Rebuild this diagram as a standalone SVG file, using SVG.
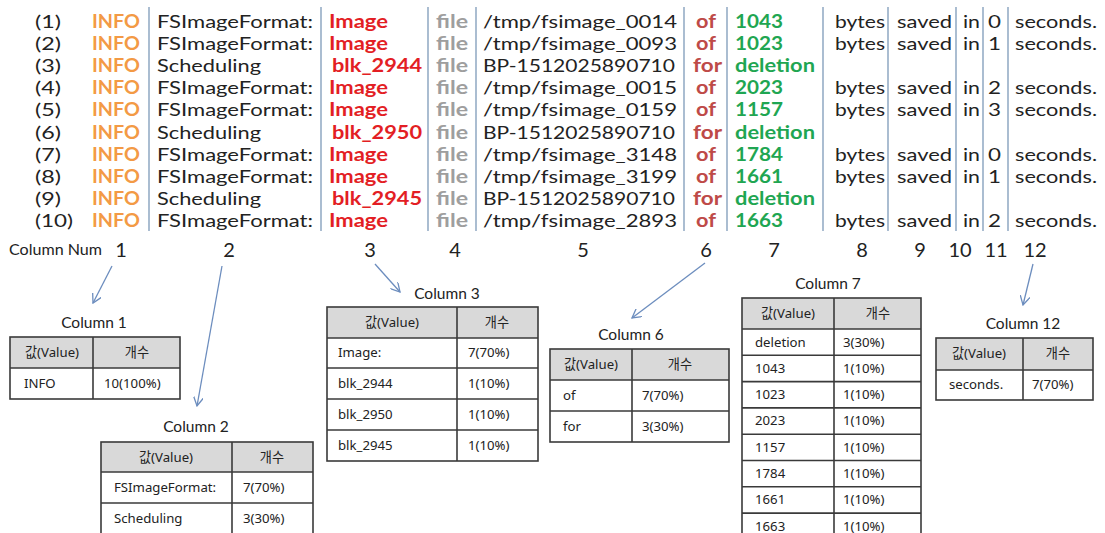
<svg xmlns="http://www.w3.org/2000/svg" width="1105" height="533" viewBox="0 0 1105 533">
<style>
text{font-family:Lato,"Liberation Sans",sans-serif}
.lg{font-size:18px}
.k{fill:#222}
.o{fill:#F39A45;font-weight:700}
.r{fill:#E31E24;font-weight:700}
.g{fill:#9E9E9E;font-weight:700}
.d{fill:#BE4A48;font-weight:700}
.v{fill:#1FA652;font-weight:700}
.sep{stroke:#7D9AB9;stroke-width:1.3}
.cn{font-size:20px;fill:#222;text-anchor:middle}
.ttl{font-size:15.5px;fill:#222;text-anchor:middle}
.tb{font-family:"Noto Sans","Noto Sans CJK KR",sans-serif;font-size:13.2px;fill:#222}
.hd{fill:#D9D9D9}
.bd{stroke:#3A3A3A;stroke-width:1.6;fill:none}
.ar{stroke:#6C8DBE;stroke-width:1.3;fill:none}
</style>
<defs>
<marker id="ah" viewBox="0 0 10 10" refX="9" refY="5" markerWidth="10" markerHeight="10" markerUnits="userSpaceOnUse" orient="auto">
<path d="M0,0 L9,5 L0,10" fill="none" stroke="#6C8DBE" stroke-width="1.3"/>
</marker>
</defs>
<rect width="1105" height="533" fill="#fff"/>

<g id="log" class="lg">
<g id="separators">
<line class="sep" x1="149" y1="7" x2="149" y2="231"/>
<line class="sep" x1="321" y1="7" x2="321" y2="231"/>
<line class="sep" x1="428" y1="7" x2="428" y2="231"/>
<line class="sep" x1="476" y1="7" x2="476" y2="231"/>
<line class="sep" x1="684" y1="7" x2="684" y2="231"/>
<line class="sep" x1="727" y1="7" x2="727" y2="231"/>
<line class="sep" x1="823" y1="7" x2="823" y2="231"/>
<line class="sep" x1="888" y1="7" x2="888" y2="231"/>
<line class="sep" x1="956" y1="7" x2="956" y2="231"/>
<line class="sep" x1="983" y1="7" x2="983" y2="231"/>
<line class="sep" x1="1008" y1="7" x2="1008" y2="231"/>
</g>
<g id="row1">
<text class="k" x="35" y="28" textLength="26" lengthAdjust="spacingAndGlyphs">(1)</text>
<text class="o" x="92" y="28" textLength="48" lengthAdjust="spacingAndGlyphs">INFO</text>
<text class="k" x="157" y="28" textLength="156" lengthAdjust="spacingAndGlyphs">FSImageFormat:</text>
<text class="r" x="329" y="28" textLength="59" lengthAdjust="spacingAndGlyphs">Image</text>
<text class="g" x="436" y="28" textLength="32" lengthAdjust="spacingAndGlyphs">file</text>
<text class="k" x="483" y="28" textLength="194" lengthAdjust="spacingAndGlyphs">/tmp/fsimage_0014</text>
<text class="d" x="696" y="28" textLength="20" lengthAdjust="spacingAndGlyphs">of</text>
<text class="v" x="735" y="28" textLength="48" lengthAdjust="spacingAndGlyphs">1043</text>
<text class="k" x="835" y="28" textLength="50" lengthAdjust="spacingAndGlyphs">bytes</text>
<text class="k" x="897" y="28" textLength="55" lengthAdjust="spacingAndGlyphs">saved</text>
<text class="k" x="963" y="28" textLength="17" lengthAdjust="spacingAndGlyphs">in</text>
<text class="k" x="988" y="28" textLength="13" lengthAdjust="spacingAndGlyphs">0</text>
<text class="k" x="1015" y="28" textLength="82" lengthAdjust="spacingAndGlyphs">seconds.</text>
</g>
<g id="row2">
<text class="k" x="35" y="50.1" textLength="26" lengthAdjust="spacingAndGlyphs">(2)</text>
<text class="o" x="92" y="50.1" textLength="48" lengthAdjust="spacingAndGlyphs">INFO</text>
<text class="k" x="157" y="50.1" textLength="156" lengthAdjust="spacingAndGlyphs">FSImageFormat:</text>
<text class="r" x="329" y="50.1" textLength="59" lengthAdjust="spacingAndGlyphs">Image</text>
<text class="g" x="436" y="50.1" textLength="32" lengthAdjust="spacingAndGlyphs">file</text>
<text class="k" x="483" y="50.1" textLength="194" lengthAdjust="spacingAndGlyphs">/tmp/fsimage_0093</text>
<text class="d" x="696" y="50.1" textLength="20" lengthAdjust="spacingAndGlyphs">of</text>
<text class="v" x="735" y="50.1" textLength="48" lengthAdjust="spacingAndGlyphs">1023</text>
<text class="k" x="835" y="50.1" textLength="50" lengthAdjust="spacingAndGlyphs">bytes</text>
<text class="k" x="897" y="50.1" textLength="55" lengthAdjust="spacingAndGlyphs">saved</text>
<text class="k" x="963" y="50.1" textLength="17" lengthAdjust="spacingAndGlyphs">in</text>
<text class="k" x="988" y="50.1" textLength="13" lengthAdjust="spacingAndGlyphs">1</text>
<text class="k" x="1015" y="50.1" textLength="82" lengthAdjust="spacingAndGlyphs">seconds.</text>
</g>
<g id="row3">
<text class="k" x="35" y="72.2" textLength="26" lengthAdjust="spacingAndGlyphs">(3)</text>
<text class="o" x="92" y="72.2" textLength="48" lengthAdjust="spacingAndGlyphs">INFO</text>
<text class="k" x="157" y="72.2" textLength="104" lengthAdjust="spacingAndGlyphs">Scheduling</text>
<text class="r" x="332" y="72.2" textLength="90" lengthAdjust="spacingAndGlyphs">blk_2944</text>
<text class="g" x="436" y="72.2" textLength="32" lengthAdjust="spacingAndGlyphs">file</text>
<text class="k" x="483" y="72.2" textLength="192" lengthAdjust="spacingAndGlyphs">BP-1512025890710</text>
<text class="d" x="693" y="72.2" textLength="29" lengthAdjust="spacingAndGlyphs">for</text>
<text class="v" x="735" y="72.2" textLength="80" lengthAdjust="spacingAndGlyphs">deletion</text>
</g>
<g id="row4">
<text class="k" x="35" y="94.3" textLength="26" lengthAdjust="spacingAndGlyphs">(4)</text>
<text class="o" x="92" y="94.3" textLength="48" lengthAdjust="spacingAndGlyphs">INFO</text>
<text class="k" x="157" y="94.3" textLength="156" lengthAdjust="spacingAndGlyphs">FSImageFormat:</text>
<text class="r" x="329" y="94.3" textLength="59" lengthAdjust="spacingAndGlyphs">Image</text>
<text class="g" x="436" y="94.3" textLength="32" lengthAdjust="spacingAndGlyphs">file</text>
<text class="k" x="483" y="94.3" textLength="194" lengthAdjust="spacingAndGlyphs">/tmp/fsimage_0015</text>
<text class="d" x="696" y="94.3" textLength="20" lengthAdjust="spacingAndGlyphs">of</text>
<text class="v" x="735" y="94.3" textLength="48" lengthAdjust="spacingAndGlyphs">2023</text>
<text class="k" x="835" y="94.3" textLength="50" lengthAdjust="spacingAndGlyphs">bytes</text>
<text class="k" x="897" y="94.3" textLength="55" lengthAdjust="spacingAndGlyphs">saved</text>
<text class="k" x="963" y="94.3" textLength="17" lengthAdjust="spacingAndGlyphs">in</text>
<text class="k" x="988" y="94.3" textLength="13" lengthAdjust="spacingAndGlyphs">2</text>
<text class="k" x="1015" y="94.3" textLength="82" lengthAdjust="spacingAndGlyphs">seconds.</text>
</g>
<g id="row5">
<text class="k" x="35" y="116.4" textLength="26" lengthAdjust="spacingAndGlyphs">(5)</text>
<text class="o" x="92" y="116.4" textLength="48" lengthAdjust="spacingAndGlyphs">INFO</text>
<text class="k" x="157" y="116.4" textLength="156" lengthAdjust="spacingAndGlyphs">FSImageFormat:</text>
<text class="r" x="329" y="116.4" textLength="59" lengthAdjust="spacingAndGlyphs">Image</text>
<text class="g" x="436" y="116.4" textLength="32" lengthAdjust="spacingAndGlyphs">file</text>
<text class="k" x="483" y="116.4" textLength="194" lengthAdjust="spacingAndGlyphs">/tmp/fsimage_0159</text>
<text class="d" x="696" y="116.4" textLength="20" lengthAdjust="spacingAndGlyphs">of</text>
<text class="v" x="735" y="116.4" textLength="48" lengthAdjust="spacingAndGlyphs">1157</text>
<text class="k" x="835" y="116.4" textLength="50" lengthAdjust="spacingAndGlyphs">bytes</text>
<text class="k" x="897" y="116.4" textLength="55" lengthAdjust="spacingAndGlyphs">saved</text>
<text class="k" x="963" y="116.4" textLength="17" lengthAdjust="spacingAndGlyphs">in</text>
<text class="k" x="988" y="116.4" textLength="13" lengthAdjust="spacingAndGlyphs">3</text>
<text class="k" x="1015" y="116.4" textLength="82" lengthAdjust="spacingAndGlyphs">seconds.</text>
</g>
<g id="row6">
<text class="k" x="35" y="138.5" textLength="26" lengthAdjust="spacingAndGlyphs">(6)</text>
<text class="o" x="92" y="138.5" textLength="48" lengthAdjust="spacingAndGlyphs">INFO</text>
<text class="k" x="157" y="138.5" textLength="104" lengthAdjust="spacingAndGlyphs">Scheduling</text>
<text class="r" x="332" y="138.5" textLength="90" lengthAdjust="spacingAndGlyphs">blk_2950</text>
<text class="g" x="436" y="138.5" textLength="32" lengthAdjust="spacingAndGlyphs">file</text>
<text class="k" x="483" y="138.5" textLength="192" lengthAdjust="spacingAndGlyphs">BP-1512025890710</text>
<text class="d" x="693" y="138.5" textLength="29" lengthAdjust="spacingAndGlyphs">for</text>
<text class="v" x="735" y="138.5" textLength="80" lengthAdjust="spacingAndGlyphs">deletion</text>
</g>
<g id="row7">
<text class="k" x="35" y="160.6" textLength="26" lengthAdjust="spacingAndGlyphs">(7)</text>
<text class="o" x="92" y="160.6" textLength="48" lengthAdjust="spacingAndGlyphs">INFO</text>
<text class="k" x="157" y="160.6" textLength="156" lengthAdjust="spacingAndGlyphs">FSImageFormat:</text>
<text class="r" x="329" y="160.6" textLength="59" lengthAdjust="spacingAndGlyphs">Image</text>
<text class="g" x="436" y="160.6" textLength="32" lengthAdjust="spacingAndGlyphs">file</text>
<text class="k" x="483" y="160.6" textLength="194" lengthAdjust="spacingAndGlyphs">/tmp/fsimage_3148</text>
<text class="d" x="696" y="160.6" textLength="20" lengthAdjust="spacingAndGlyphs">of</text>
<text class="v" x="735" y="160.6" textLength="48" lengthAdjust="spacingAndGlyphs">1784</text>
<text class="k" x="835" y="160.6" textLength="50" lengthAdjust="spacingAndGlyphs">bytes</text>
<text class="k" x="897" y="160.6" textLength="55" lengthAdjust="spacingAndGlyphs">saved</text>
<text class="k" x="963" y="160.6" textLength="17" lengthAdjust="spacingAndGlyphs">in</text>
<text class="k" x="988" y="160.6" textLength="13" lengthAdjust="spacingAndGlyphs">0</text>
<text class="k" x="1015" y="160.6" textLength="82" lengthAdjust="spacingAndGlyphs">seconds.</text>
</g>
<g id="row8">
<text class="k" x="35" y="182.7" textLength="26" lengthAdjust="spacingAndGlyphs">(8)</text>
<text class="o" x="92" y="182.7" textLength="48" lengthAdjust="spacingAndGlyphs">INFO</text>
<text class="k" x="157" y="182.7" textLength="156" lengthAdjust="spacingAndGlyphs">FSImageFormat:</text>
<text class="r" x="329" y="182.7" textLength="59" lengthAdjust="spacingAndGlyphs">Image</text>
<text class="g" x="436" y="182.7" textLength="32" lengthAdjust="spacingAndGlyphs">file</text>
<text class="k" x="483" y="182.7" textLength="194" lengthAdjust="spacingAndGlyphs">/tmp/fsimage_3199</text>
<text class="d" x="696" y="182.7" textLength="20" lengthAdjust="spacingAndGlyphs">of</text>
<text class="v" x="735" y="182.7" textLength="48" lengthAdjust="spacingAndGlyphs">1661</text>
<text class="k" x="835" y="182.7" textLength="50" lengthAdjust="spacingAndGlyphs">bytes</text>
<text class="k" x="897" y="182.7" textLength="55" lengthAdjust="spacingAndGlyphs">saved</text>
<text class="k" x="963" y="182.7" textLength="17" lengthAdjust="spacingAndGlyphs">in</text>
<text class="k" x="988" y="182.7" textLength="13" lengthAdjust="spacingAndGlyphs">1</text>
<text class="k" x="1015" y="182.7" textLength="82" lengthAdjust="spacingAndGlyphs">seconds.</text>
</g>
<g id="row9">
<text class="k" x="35" y="204.8" textLength="26" lengthAdjust="spacingAndGlyphs">(9)</text>
<text class="o" x="92" y="204.8" textLength="48" lengthAdjust="spacingAndGlyphs">INFO</text>
<text class="k" x="157" y="204.8" textLength="104" lengthAdjust="spacingAndGlyphs">Scheduling</text>
<text class="r" x="332" y="204.8" textLength="90" lengthAdjust="spacingAndGlyphs">blk_2945</text>
<text class="g" x="436" y="204.8" textLength="32" lengthAdjust="spacingAndGlyphs">file</text>
<text class="k" x="483" y="204.8" textLength="192" lengthAdjust="spacingAndGlyphs">BP-1512025890710</text>
<text class="d" x="693" y="204.8" textLength="29" lengthAdjust="spacingAndGlyphs">for</text>
<text class="v" x="735" y="204.8" textLength="80" lengthAdjust="spacingAndGlyphs">deletion</text>
</g>
<g id="row10">
<text class="k" x="35" y="226.9" textLength="38" lengthAdjust="spacingAndGlyphs">(10)</text>
<text class="o" x="92" y="226.9" textLength="48" lengthAdjust="spacingAndGlyphs">INFO</text>
<text class="k" x="157" y="226.9" textLength="156" lengthAdjust="spacingAndGlyphs">FSImageFormat:</text>
<text class="r" x="329" y="226.9" textLength="59" lengthAdjust="spacingAndGlyphs">Image</text>
<text class="g" x="436" y="226.9" textLength="32" lengthAdjust="spacingAndGlyphs">file</text>
<text class="k" x="483" y="226.9" textLength="194" lengthAdjust="spacingAndGlyphs">/tmp/fsimage_2893</text>
<text class="d" x="696" y="226.9" textLength="20" lengthAdjust="spacingAndGlyphs">of</text>
<text class="v" x="735" y="226.9" textLength="48" lengthAdjust="spacingAndGlyphs">1663</text>
<text class="k" x="835" y="226.9" textLength="50" lengthAdjust="spacingAndGlyphs">bytes</text>
<text class="k" x="897" y="226.9" textLength="55" lengthAdjust="spacingAndGlyphs">saved</text>
<text class="k" x="963" y="226.9" textLength="17" lengthAdjust="spacingAndGlyphs">in</text>
<text class="k" x="988" y="226.9" textLength="13" lengthAdjust="spacingAndGlyphs">2</text>
<text class="k" x="1015" y="226.9" textLength="82" lengthAdjust="spacingAndGlyphs">seconds.</text>
</g>
</g>

<g id="column-numbers">
<text x="9" y="255" font-size="15.5" fill="#222" textLength="93" lengthAdjust="spacingAndGlyphs">Column Num</text>
<text class="cn" x="121" y="257">1</text>
<text class="cn" x="229" y="257">2</text>
<text class="cn" x="370" y="257">3</text>
<text class="cn" x="455" y="257">4</text>
<text class="cn" x="583" y="257">5</text>
<text class="cn" x="706" y="257">6</text>
<text class="cn" x="774" y="257">7</text>
<text class="cn" x="862" y="257">8</text>
<text class="cn" x="920" y="257">9</text>
<text class="cn" x="960" y="257">10</text>
<text class="cn" x="996" y="257">11</text>
<text class="cn" x="1035" y="257">12</text>
</g>

<g id="connectors">
<line class="ar" x1="112" y1="266" x2="93" y2="303" marker-end="url(#ah)"/>
<line class="ar" x1="222" y1="266" x2="197" y2="406" marker-end="url(#ah)"/>
<line class="ar" x1="375" y1="264" x2="400" y2="292" marker-end="url(#ah)"/>
<line class="ar" x1="705" y1="263" x2="632" y2="318" marker-end="url(#ah)"/>
<line class="ar" x1="1033" y1="264" x2="1023" y2="305" marker-end="url(#ah)"/>
</g>

<g id="table-col1">
<text class="ttl" x="94" y="328">Column 1</text>
<rect class="hd" x="10" y="337" width="170" height="31"/>
<rect class="bd" x="10" y="337" width="170" height="62"/>
<line class="bd" x1="10" y1="368" x2="180" y2="368"/>
<line class="bd" x1="93" y1="337" x2="93" y2="399"/>
<text class="tb" x="52" y="357" text-anchor="middle">값(Value)</text>
<text class="tb" x="137" y="357" text-anchor="middle">개수</text>
<text class="tb" x="24" y="388">INFO</text>
<text class="tb" x="104" y="388">10(100%)</text>
</g>

<g id="table-col2">
<text class="ttl" x="196" y="432">Column 2</text>
<rect class="hd" x="101" y="442" width="212" height="30"/>
<rect class="bd" x="101" y="442" width="212" height="92"/>
<line class="bd" x1="101" y1="472" x2="313" y2="472"/>
<line class="bd" x1="101" y1="503" x2="313" y2="503"/>
<line class="bd" x1="232" y1="442" x2="232" y2="534"/>
<text class="tb" x="166" y="462" text-anchor="middle">값(Value)</text>
<text class="tb" x="272" y="462" text-anchor="middle">개수</text>
<text class="tb" x="114" y="492">FSImageFormat:</text>
<text class="tb" x="243" y="492">7(70%)</text>
<text class="tb" x="114" y="523">Scheduling</text>
<text class="tb" x="243" y="523">3(30%)</text>
</g>

<g id="table-col3">
<text class="ttl" x="447" y="299">Column 3</text>
<rect class="hd" x="327" y="307" width="211" height="31"/>
<rect class="bd" x="327" y="307" width="211" height="154"/>
<line class="bd" x1="327" y1="338" x2="538" y2="338"/>
<line class="bd" x1="327" y1="368" x2="538" y2="368"/>
<line class="bd" x1="327" y1="399" x2="538" y2="399"/>
<line class="bd" x1="327" y1="430" x2="538" y2="430"/>
<line class="bd" x1="457" y1="307" x2="457" y2="461"/>
<text class="tb" x="392" y="327" text-anchor="middle">값(Value)</text>
<text class="tb" x="497" y="327" text-anchor="middle">개수</text>
<text class="tb" x="338" y="357">Image:</text>
<text class="tb" x="468" y="357">7(70%)</text>
<text class="tb" x="338" y="388">blk_2944</text>
<text class="tb" x="468" y="388">1(10%)</text>
<text class="tb" x="338" y="419">blk_2950</text>
<text class="tb" x="468" y="419">1(10%)</text>
<text class="tb" x="338" y="450">blk_2945</text>
<text class="tb" x="468" y="450">1(10%)</text>
</g>

<g id="table-col6">
<text class="ttl" x="631" y="340">Column 6</text>
<rect class="hd" x="550" y="349" width="179" height="31"/>
<rect class="bd" x="550" y="349" width="179" height="93"/>
<line class="bd" x1="550" y1="380" x2="729" y2="380"/>
<line class="bd" x1="550" y1="411" x2="729" y2="411"/>
<line class="bd" x1="632" y1="349" x2="632" y2="442"/>
<text class="tb" x="591" y="369" text-anchor="middle">값(Value)</text>
<text class="tb" x="680" y="369" text-anchor="middle">개수</text>
<text class="tb" x="563" y="400">of</text>
<text class="tb" x="642" y="400">7(70%)</text>
<text class="tb" x="563" y="431">for</text>
<text class="tb" x="642" y="431">3(30%)</text>
</g>

<g id="table-col7">
<text class="ttl" x="828" y="289">Column 7</text>
<rect class="hd" x="742" y="298" width="179" height="31"/>
<rect class="bd" x="742" y="298" width="179" height="241"/>
<line class="bd" x1="742" y1="329" x2="921" y2="329"/>
<line class="bd" x1="742" y1="355.3" x2="921" y2="355.3"/>
<line class="bd" x1="742" y1="381.6" x2="921" y2="381.6"/>
<line class="bd" x1="742" y1="407.9" x2="921" y2="407.9"/>
<line class="bd" x1="742" y1="434.2" x2="921" y2="434.2"/>
<line class="bd" x1="742" y1="460.5" x2="921" y2="460.5"/>
<line class="bd" x1="742" y1="486.8" x2="921" y2="486.8"/>
<line class="bd" x1="742" y1="513.1" x2="921" y2="513.1"/>
<line class="bd" x1="834" y1="298" x2="834" y2="539"/>
<text class="tb" x="788" y="318" text-anchor="middle">값(Value)</text>
<text class="tb" x="878" y="318" text-anchor="middle">개수</text>
<text class="tb" x="755" y="346.5">deletion</text>
<text class="tb" x="843" y="346.5">3(30%)</text>
<text class="tb" x="755" y="372.8">1043</text>
<text class="tb" x="843" y="372.8">1(10%)</text>
<text class="tb" x="755" y="399.1">1023</text>
<text class="tb" x="843" y="399.1">1(10%)</text>
<text class="tb" x="755" y="425.4">2023</text>
<text class="tb" x="843" y="425.4">1(10%)</text>
<text class="tb" x="755" y="451.7">1157</text>
<text class="tb" x="843" y="451.7">1(10%)</text>
<text class="tb" x="755" y="478">1784</text>
<text class="tb" x="843" y="478">1(10%)</text>
<text class="tb" x="755" y="504.3">1661</text>
<text class="tb" x="843" y="504.3">1(10%)</text>
<text class="tb" x="755" y="530.6">1663</text>
<text class="tb" x="843" y="530.6">1(10%)</text>
</g>

<g id="table-col12">
<text class="ttl" x="1023" y="329">Column 12</text>
<rect class="hd" x="936" y="338" width="157" height="32"/>
<rect class="bd" x="936" y="338" width="157" height="62"/>
<line class="bd" x1="936" y1="370" x2="1093" y2="370"/>
<line class="bd" x1="1023" y1="338" x2="1023" y2="400"/>
<text class="tb" x="979" y="358" text-anchor="middle">값(Value)</text>
<text class="tb" x="1058" y="358" text-anchor="middle">개수</text>
<text class="tb" x="949" y="389">seconds.</text>
<text class="tb" x="1032" y="389">7(70%)</text>
</g>
</svg>
